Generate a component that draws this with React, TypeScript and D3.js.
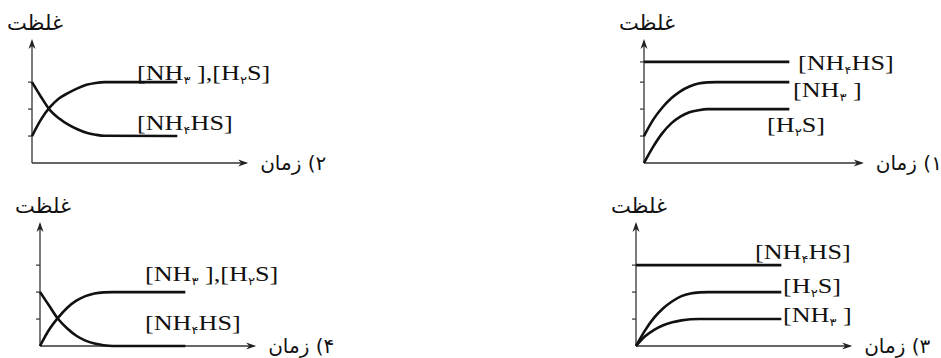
import React from "react";
import * as d3 from "d3";

const width = 941;
const height = 358;

const yTitle = "غلظت";

// time points shared by the curves
const tCurve = [0, 0.5, 1, 1.5, 2, 2.5, 3, 3.5, 4, 8];
const tFlat = [0, 8];

// panel 1
const p1NH4HS = [3.75, 3.75];
const p1NH3 = [1, 1.6, 2.05, 2.4, 2.66, 2.84, 2.95, 2.99, 3, 3];
const p1H2S = [0, 0.6, 1.1, 1.47, 1.72, 1.88, 1.96, 2.0, 2, 2];
const p1Ticks = [1, 2, 3, 3.75];

// panel 2
const p2Products = [1, 1.62, 2.08, 2.4, 2.6, 2.77, 2.9, 2.97, 3, 3];
const p2NH4HS = [3, 2.45, 1.95, 1.65, 1.42, 1.25, 1.12, 1.05, 1.01, 1];
const p2Ticks = [1, 2, 3];

// panel 3
const p3NH4HS = [3, 3];
const p3H2S = [0, 0.58, 1.05, 1.4, 1.66, 1.85, 1.95, 1.99, 2, 2];
const p3NH3 = [0, 0.36, 0.6, 0.77, 0.88, 0.95, 0.99, 1, 1, 1];
const p3Ticks = [1, 2, 3];

// panel 4
const p4Products = [0, 0.6, 1.05, 1.42, 1.68, 1.85, 1.95, 1.99, 2, 2];
const p4NH4HS = [2, 1.5, 1.0, 0.65, 0.38, 0.2, 0.09, 0.03, 0, 0];
const p4Ticks = [1, 2, 3];

// labels: odd pieces are subscripts
const lblProducts = ["[NH", "۳", " ],[H", "۲", "S]"];
const lblNH4HS = ["[NH", "۴", "HS]"];
const lblNH3 = ["[NH", "۳", " ]"];
const lblH2S = ["[H", "۲", "S]"];

const panels = [
  {
    name: "۱) زمان", ox: 644, oy: 163, xEnd: 12.1, ticks: p1Ticks,
    series: [
      { t: tFlat, v: p1NH4HS },
      { t: tCurve, v: p1NH3 },
      { t: tCurve, v: p1H2S },
    ],
    labels: [
      { parts: lblNH4HS, x: 798, y: 70 },
      { parts: lblNH3, x: 793, y: 97 },
      { parts: lblH2S, x: 767, y: 132 },
    ],
  },
  {
    name: "۲) زمان", ox: 32, oy: 163, xEnd: 11.9, ticks: p2Ticks,
    series: [
      { t: tCurve, v: p2Products },
      { t: tCurve, v: p2NH4HS },
    ],
    labels: [
      { parts: lblProducts, x: 137, y: 80 },
      { parts: lblNH4HS, x: 137, y: 130 },
    ],
  },
  {
    name: "۳) زمان", ox: 636, oy: 346, xEnd: 11.9, ticks: p3Ticks,
    series: [
      { t: tFlat, v: p3NH4HS },
      { t: tCurve, v: p3H2S },
      { t: tCurve, v: p3NH3 },
    ],
    labels: [
      { parts: lblNH4HS, x: 755, y: 259 },
      { parts: lblH2S, x: 783, y: 293 },
      { parts: lblNH3, x: 783, y: 322 },
    ],
  },
  {
    name: "۴) زمان", ox: 40, oy: 346, xEnd: 11.9, ticks: p4Ticks,
    series: [
      { t: tCurve, v: p4Products },
      { t: tCurve, v: p4NH4HS },
    ],
    labels: [
      { parts: lblProducts, x: 145, y: 281 },
      { parts: lblNH4HS, x: 145, y: 330 },
    ],
  },
];

function Label({ parts, x, y }) {
  return (
    <text
      transform={`translate(${x},${y}) scale(1.19,1)`}
      fontFamily="'Liberation Serif', 'Times New Roman', serif"
      fontSize={22}
      fill="#111"
    >
      {parts.map((p, i) =>
        i % 2 === 1 ? (
          <tspan key={i} fontFamily="'DejaVu Sans'" fontSize={11} dy={4}>
            {p}
          </tspan>
        ) : (
          <tspan key={i} dy={i === 0 ? 0 : -4}>
            {p}
          </tspan>
        )
      )}
    </text>
  );
}

function Panel({ p }) {
  const x = d3.scaleLinear().domain([0, 12]).range([p.ox, p.ox + 218]);
  const y = d3.scaleLinear().domain([0, 4.6]).range([p.oy, p.oy - 124]);
  const line = d3
    .line()
    .x((d) => x(d[0]))
    .y((d) => y(d[1]))
    .curve(d3.curveMonotoneX);
  const top = y(4.6);
  const tip = x(p.xEnd);
  return (
    <g>
      {/* axes */}
      <line x1={p.ox} x2={p.ox} y1={p.oy} y2={top + 2} stroke="#333" strokeWidth={1.3} />
      <line x1={p.ox} x2={tip - 2} y1={p.oy} y2={p.oy} stroke="#333" strokeWidth={1.3} />
      <path
        d={`M${p.ox},${top} L${p.ox - 3.5},${top + 10} L${p.ox},${top + 7} L${p.ox + 3.5},${top + 10} Z`}
        fill="#222"
      />
      <path
        d={`M${tip},${p.oy} L${tip - 10},${p.oy - 3.5} L${tip - 7},${p.oy} L${tip - 10},${p.oy + 3.5} Z`}
        fill="#222"
      />
      {p.ticks.map((t) => (
        <line key={t} x1={p.ox - 4} x2={p.ox} y1={y(t)} y2={y(t)} stroke="#333" strokeWidth={1.2} />
      ))}
      {p.series.map((s, i) => (
        <path
          key={i}
          d={line(s.t.map((t, j) => [t, s.v[j]]))}
          fill="none"
          stroke="#111"
          strokeWidth={2.6}
        />
      ))}
      <text
        x={p.ox + 3}
        y={top - 9}
        textAnchor="middle"
        fontFamily="'DejaVu Sans'"
        fontSize={21}
        fill="#111"
      >
        {yTitle}
      </text>
      <text
        x={tip + 12}
        y={p.oy + 7}
        direction="rtl"
        textAnchor="end"
        fontFamily="'DejaVu Sans'"
        fontSize={20}
        fill="#111"
      >
        {p.name}
      </text>
      {p.labels.map((l, i) => (
        <Label key={i} parts={l.parts} x={l.x} y={l.y} />
      ))}
    </g>
  );
}

export default function App() {
  return (
    <svg
      width={width}
      height={height}
      style={{ position: "absolute", left: 0, top: 0, background: "#fff" }}
    >
      <rect width={width} height={height} fill="#fff" />
      {panels.map((p, i) => (
        <Panel key={i} p={p} />
      ))}
    </svg>
  );
}
